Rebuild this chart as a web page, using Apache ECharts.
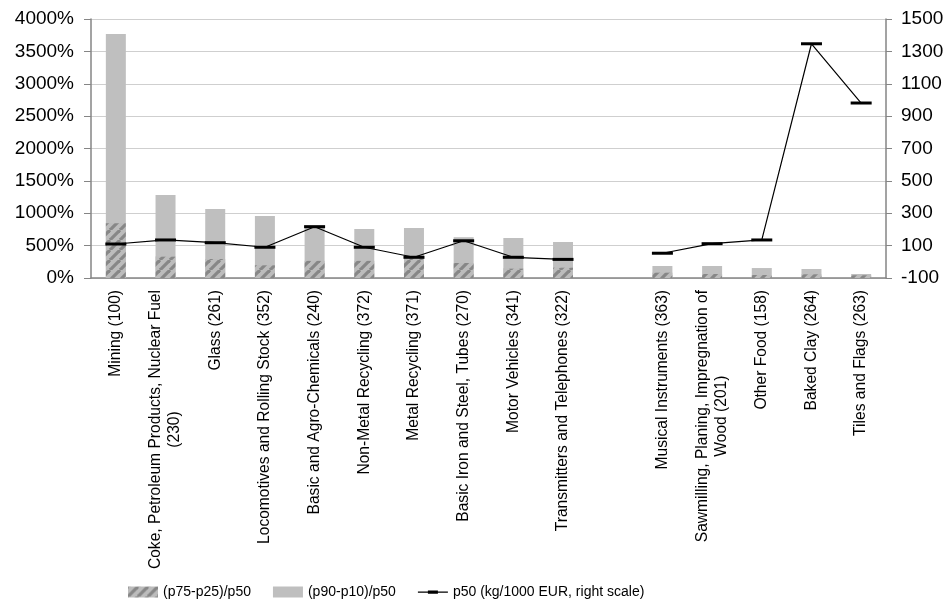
<!DOCTYPE html>
<html>
<head>
<meta charset="utf-8">
<script src="https://cdn.jsdelivr.net/npm/echarts@6/dist/echarts.min.js"></script>
<style>
  html, body { margin: 0; padding: 0; background: #fff; }
  #chart { width: 949px; height: 616px; }
</style>
</head>
<body>
<div id="chart"></div>
<script>
const categories = [
    'Mining (100)',
    'Coke, Petroleum Products, Nuclear Fuel\n(230)',
    'Glass (261)',
    'Locomotives and Rolling Stock (352)',
    'Basic and Agro-Chemicals (240)',
    'Non-Metal Recycling (372)',
    'Metal Recycling (371)',
    'Basic Iron and Steel, Tubes (270)',
    'Motor Vehicles (341)',
    'Transmitters and Telephones (322)',
    '',
    'Musical Instruments (363)',
    'Sawmilling, Planing, Impregnation of\nWood (201)',
    'Other Food (158)',
    'Baked Clay (264)',
    'Tiles and Flags (263)'
]

// (p90-p10)/p50 in %
const p90p10 = [3768, 1282, 1066, 958, 810, 757, 772, 630, 618, 556, null, 185, 185, 154, 139, 62]
// (p75-p25)/p50 in %
const p75p25 = [845, 329, 293, 196, 265, 265, 304, 232, 144, 159, null, 82, 62, 46, 57, 42]
// p50 kg/1000 EUR (right scale)
const p50 = [110, 135, 118, 90, 217, 90, 28, 130, 28, 15, null, 53, 112, 135, 1347, 981]

const font = 'Liberation Sans, Arial, sans-serif'

// diagonal hatch pattern
const makeHatch = () => {
    const c = document.createElement('canvas')
    c.width = 10
    c.height = 10
    const ctx = c.getContext('2d')
    ctx.fillStyle = '#bcbcbc'
    ctx.fillRect(0, 0, 10, 10)
    ctx.strokeStyle = '#878787'
    ctx.lineWidth = 3.2
    for (const x0 of [-10, 0, 10]) {
        ctx.beginPath()
        ctx.moveTo(x0, 10)
        ctx.lineTo(x0 + 10, 0)
        ctx.stroke()
    }
    return c
}

const chart = echarts.init(document.getElementById('chart'))

chart.setOption({
    animation: false,
    grid: { left: 91, right: 63, top: 19, bottom: 338 },
    legend: {
        left: 123,
        top: 580,
        itemWidth: 30,
        itemHeight: 11,
        itemGap: 22,
        icon: 'rect',
        textStyle: { fontFamily: font, fontSize: 14, color: '#000' },
        data: [
            { name: '(p75-p25)/p50' },
            { name: '(p90-p10)/p50' },
            {
                name: 'p50 (kg/1000 EUR, right scale)',
                icon: 'path://M0,0L0,0M30,11L30,11M0,5H30V6.2H0ZM10,4H20V7.2H10Z'
            }
        ]
    },
    xAxis: {
        type: 'category',
        data: categories,
        axisLine: { lineStyle: { color: '#858585', width: 1.5 } },
        axisTick: { length: 6, lineStyle: { color: '#858585' } },
        axisLabel: {
            interval: 0,
            rotate: 90,
            margin: 12,
            formatter: v => v.split('\n').map(s => '{c|' + s + '}').join('\n'),
            rich: {
                c: { fontFamily: font, fontSize: 15.6, color: '#000', align: 'center', lineHeight: 19 }
            }
        }
    },
    yAxis: [
        {
            type: 'value',
            min: 0,
            max: 4000,
            interval: 500,
            axisLine: { show: true, lineStyle: { color: '#858585', width: 1.5 } },
            axisTick: { show: true, length: 7, lineStyle: { color: '#858585' } },
            axisLabel: {
                formatter: v => v + '%',
                fontFamily: font,
                fontSize: 19,
                color: '#000',
                margin: 17
            },
            splitLine: { lineStyle: { color: '#cfcfcf', width: 1.2 } }
        },
        {
            type: 'value',
            min: -100,
            max: 1500,
            interval: 200,
            axisLine: { show: true, lineStyle: { color: '#858585', width: 1.5 } },
            axisTick: { show: true, length: 6, lineStyle: { color: '#858585' } },
            axisLabel: {
                formatter: v => String(v),
                fontFamily: font,
                fontSize: 19,
                color: '#000',
                margin: 15
            },
            splitLine: { show: false }
        }
    ],
    series: [
        {
            name: '(p90-p10)/p50',
            type: 'bar',
            barWidth: 20,
            itemStyle: { color: '#bfbfbf' },
            data: p90p10
        },
        {
            name: '(p75-p25)/p50',
            type: 'bar',
            barWidth: 20,
            barGap: '-100%',
            itemStyle: { color: { image: makeHatch(), repeat: 'repeat' } },
            data: p75p25
        },
        {
            name: 'p50 (kg/1000 EUR, right scale)',
            type: 'line',
            yAxisIndex: 1,
            symbol: 'rect',
            symbolSize: [21, 3],
            connectNulls: false,
            z: 5,
            itemStyle: { color: '#000' },
            lineStyle: { color: '#000', width: 1.2 },
            data: p50
        }
    ]
})
</script>
</body>
</html>
